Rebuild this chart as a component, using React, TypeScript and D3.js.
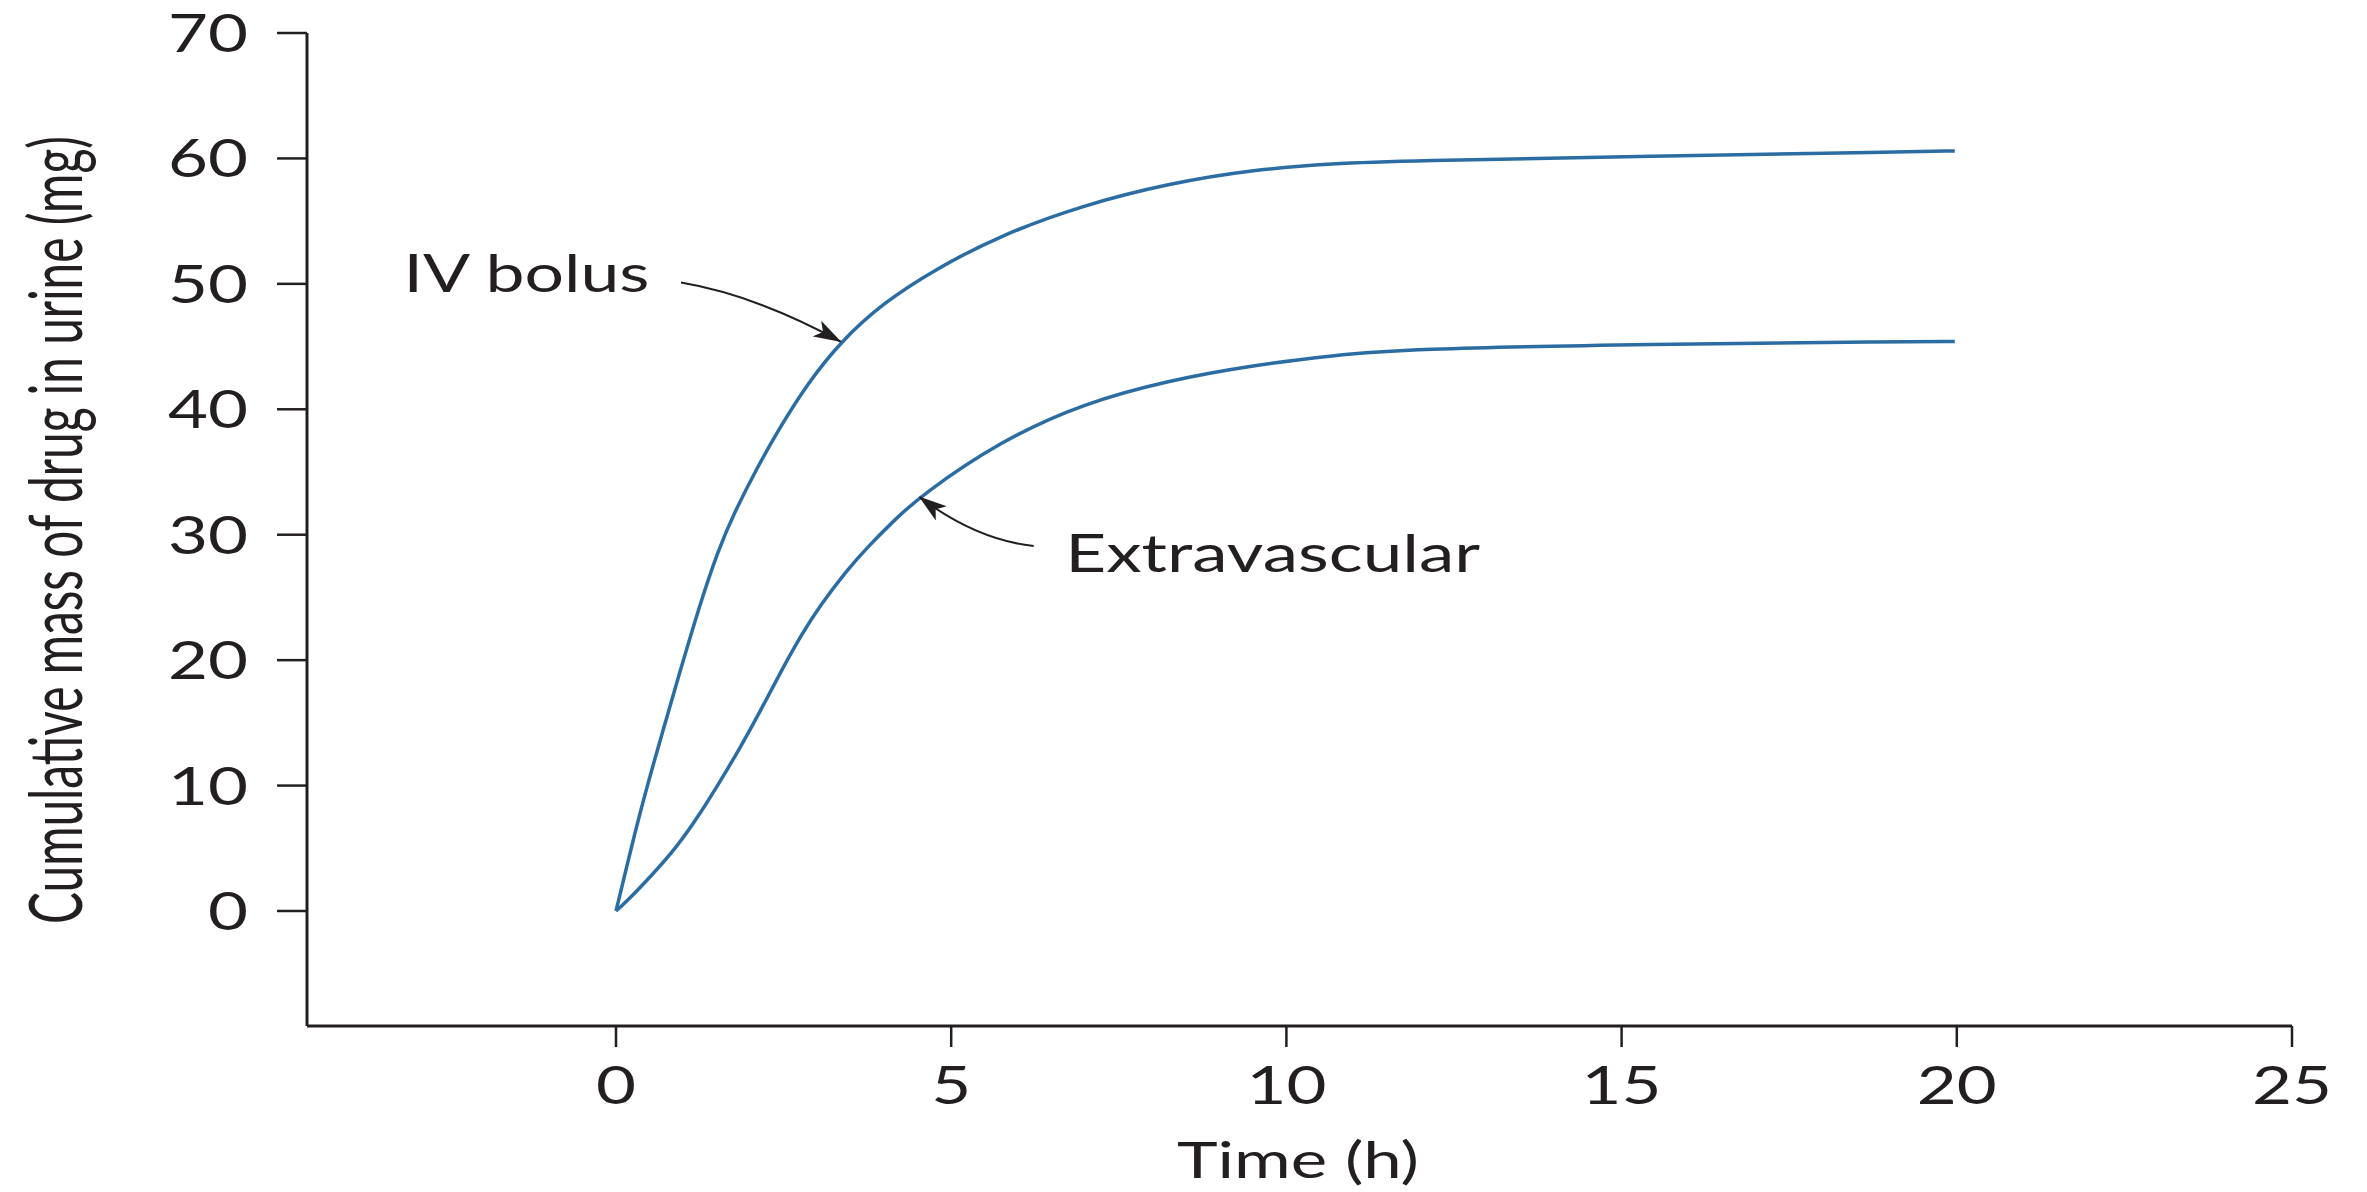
import React from 'react';
import * as d3 from 'd3';

// ---- Data ----
const xTicks = [0, 5, 10, 15, 20, 25];
const yTicks = [0, 10, 20, 30, 40, 50, 60, 70];

const ivTime = [0, 0.06, 0.36, 0.69, 0.96, 1.26, 1.52, 1.75, 2.11, 2.45, 2.85, 3.35, 3.99, 4.74, 5.74, 6.98, 8.24, 9.48, 10.72, 11.72, 15.46, 19.19, 19.97];
const ivMass = [0, 1.3, 8.0, 14.2, 19.2, 24.6, 28.7, 31.6, 35.4, 38.6, 42.0, 45.4, 48.5, 51.1, 53.9, 56.3, 58.0, 59.1, 59.6, 59.8, 60.2, 60.5, 60.6];

const evTime = [0, 0.13, 0.51, 0.91, 1.26, 1.55, 1.85, 2.15, 2.45, 2.75, 3.05, 3.45, 3.75, 4.14, 4.54, 5.74, 6.98, 8.24, 9.48, 10.72, 11.72, 15.46, 19.19, 19.97];
const evMass = [0, 0.6, 2.7, 5.1, 7.8, 10.3, 13.0, 15.9, 19.0, 21.9, 24.4, 27.2, 29.0, 31.1, 33.1, 37.5, 40.5, 42.3, 43.5, 44.3, 44.8, 45.2, 45.4, 45.4];

// annotation labels and arrows, in data units: [tail, control, tip]
const annLabels = ['IV bolus', 'Extravascular'];
const annLabelPos = [[-3.17, 49.35], [6.70, 27.0]];
const annArrows = [
  [[0.97, 50.1], [2.08, 49.1], [3.35, 45.4]],
  [[6.23, 29.1], [5.37, 29.6], [4.53, 33.0]],
];

const xLabel = 'Time (h)';
const yLabel = 'Cumulative mass of drug in urine (mg)';

const W = 2367;
const H = 1192;
const FONT = "Lato, 'Liberation Sans', 'DejaVu Sans', sans-serif";
const TXT = '#231f20';
const LINE = '#2b6da3';

export default function App() {
  const x = d3.scaleLinear().domain([0, 25]).range([616, 2292]);
  const y = d3.scaleLinear().domain([0, 70]).range([911, 33]);
  const xMinDomain = x.invert(307);
  const yMinDomain = y.invert(1026);
  const axisX = x(xMinDomain);
  const axisY = y(yMinDomain);

  const line = d3
    .line<[number, number]>()
    .x((d) => x(d[0]))
    .y((d) => y(d[1]))
    .curve(d3.curveBasis);

  const iv = ivTime.map((t, i) => [t, ivMass[i]] as [number, number]);
  const ev = evTime.map((t, i) => [t, evMass[i]] as [number, number]);

  const arrowPath = (a: number[][]) => {
    const p = d3.path();
    p.moveTo(x(a[0][0]), y(a[0][1]));
    p.quadraticCurveTo(x(a[1][0]), y(a[1][1]), x(a[2][0]), y(a[2][1]));
    return p.toString();
  };

  const labelWidths = [246, 415];

  return (
    <svg
      width={W}
      height={H}
      style={{ position: 'absolute', left: 0, top: 0, background: '#fff' }}
      fontFamily={FONT}
    >
      <defs>
        <marker
          id="ah"
          markerUnits="userSpaceOnUse"
          viewBox="0 0 28 18"
          markerWidth={28}
          markerHeight={18}
          refX={27}
          refY={9}
          orient="auto"
        >
          <path d="M0,0 L28,9 L0,18 L7,9 Z" fill={TXT} />
        </marker>
      </defs>
      <rect x={0} y={0} width={W} height={H} fill="#fff" />

      {/* axes */}
      <line x1={axisX} x2={axisX} y1={y(70)} y2={axisY} stroke={TXT} strokeWidth={3} />
      <line x1={axisX} x2={x(25)} y1={axisY} y2={axisY} stroke={TXT} strokeWidth={3} />

      {yTicks.map((v) => (
        <g key={'y' + v}>
          <line x1={axisX - 30} x2={axisX} y1={y(v)} y2={y(v)} stroke={TXT} strokeWidth={2.5} />
          <text
            x={248}
            y={y(v) + 19}
            textAnchor="end"
            fontSize={52}
            fill={TXT}
            textLength={String(v).length * 40}
            lengthAdjust="spacingAndGlyphs"
          >
            {v}
          </text>
        </g>
      ))}

      {xTicks.map((v) => (
        <g key={'x' + v}>
          <line x1={x(v)} x2={x(v)} y1={axisY} y2={axisY + 21} stroke={TXT} strokeWidth={2.5} />
          <text
            x={x(v)}
            y={1104}
            textAnchor="middle"
            fontSize={52}
            fill={TXT}
            textLength={String(v).length * 40}
            lengthAdjust="spacingAndGlyphs"
          >
            {v}
          </text>
        </g>
      ))}

      {/* axis titles */}
      <text
        x={1298}
        y={1178}
        textAnchor="middle"
        fontSize={51}
        fill={TXT}
        textLength={242}
        lengthAdjust="spacingAndGlyphs"
      >
        {xLabel}
      </text>
      <text
        transform="translate(82,530) rotate(-90)"
        textAnchor="middle"
        fontSize={74}
        fill={TXT}
        textLength={788}
        lengthAdjust="spacingAndGlyphs"
      >
        {yLabel}
      </text>

      {/* curves */}
      <path d={line(iv) || ''} fill="none" stroke={LINE} strokeWidth={3.5} strokeLinejoin="round" />
      <path d={line(ev) || ''} fill="none" stroke={LINE} strokeWidth={3.5} strokeLinejoin="round" />

      {/* annotations */}
      {annArrows.map((a, i) => (
        <path key={'a' + i} d={arrowPath(a)} fill="none" stroke={TXT} strokeWidth={2} markerEnd="url(#ah)" />
      ))}
      {annLabels.map((s, i) => (
        <text
          key={'l' + i}
          x={x(annLabelPos[i][0])}
          y={y(annLabelPos[i][1])}
          fontSize={52}
          fill={TXT}
          textLength={labelWidths[i]}
          lengthAdjust="spacingAndGlyphs"
        >
          {s}
        </text>
      ))}
    </svg>
  );
}
